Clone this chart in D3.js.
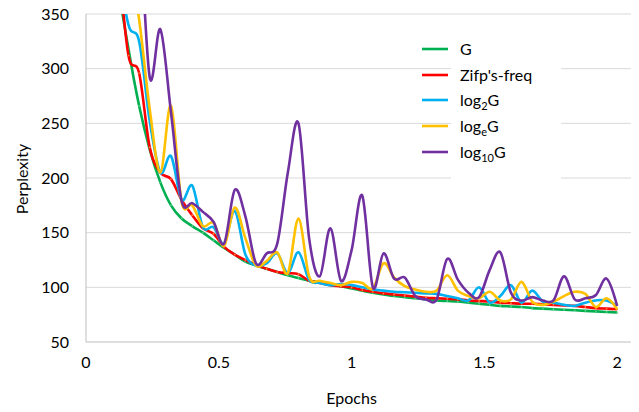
<!DOCTYPE html>
<html>
<head>
<meta charset="utf-8">
<script src="https://cdn.jsdelivr.net/npm/d3@7"></script>
<style>
  body { margin: 0; background: #fff; }
  text { font-family: Lato, "Liberation Sans", sans-serif; fill: #000; }
</style>
</head>
<body>
<svg id="chart" width="639" height="412"></svg>
<script>
// epochs at which perplexity was sampled
const epochs = [0.08, 0.12, 0.16, 0.20, 0.24, 0.28, 0.32, 0.36, 0.40, 0.44, 0.48, 0.52, 0.56, 0.60,
  0.64, 0.68, 0.72, 0.76, 0.80, 0.84, 0.88, 0.92, 0.96, 1.00, 1.04, 1.08, 1.12, 1.16, 1.20, 1.24,
  1.28, 1.32, 1.36, 1.40, 1.44, 1.48, 1.52, 1.56, 1.60, 1.64, 1.68, 1.72, 1.76, 1.80, 1.84, 1.88,
  1.92, 1.96, 2.00];

const gVals = [480, 380, 318, 266, 226, 196, 175, 163, 156, 150, 143, 136, 130, 123.5,
  120, 117, 114, 111, 108.5, 106, 104.5, 103, 101, 99, 97, 95, 93.5, 92, 91, 90,
  89, 88, 87.5, 87, 86, 85, 84, 83, 82.5, 82, 81, 80.5, 80, 79.5, 79, 78.5,
  78, 77.5, 77];

const zipfVals = [470, 400, 312, 296, 228, 205, 199, 180, 166, 154, 149, 137, 130, 125,
  120.5, 117, 114, 113, 112, 106, 104, 102, 101, 100, 97.5, 96, 94.5, 93.5, 92.5, 91.5,
  90.5, 90, 89.5, 89, 88, 87.5, 87, 86, 85.5, 85, 85, 84.5, 84, 83.5, 83, 82,
  81, 80.5, 80];

const log2Vals = [500, 400, 340, 325, 252, 205, 220, 180, 193, 155, 155, 140, 170, 130,
  120, 122, 131, 113, 132, 107, 104, 102, 103, 102, 100, 98, 97, 96, 95.5, 95,
  94.5, 94, 92, 90, 88, 100, 86, 92, 102, 86, 97, 87, 86, 84, 83, 86,
  88, 88, 83];

const logeVals = [560, 470, 400, 345, 263, 205, 266, 178, 175, 156, 159, 138, 173, 145,
  120, 124, 132, 113, 163, 110, 106, 104, 102, 105, 104, 99, 122, 109, 101, 98,
  96, 97, 111, 97, 92, 90, 96, 88, 89, 105, 87, 84, 87, 92, 96, 94,
  82, 90, 80];

const log10Vals = [680, 600, 520, 440, 292, 336, 260, 179, 177, 169, 160, 140, 189, 165,
  122, 131, 140, 205, 250, 145, 110, 154, 106, 134, 184, 100, 131, 108, 109, 92,
  89, 89, 126, 107, 95, 91, 116, 132, 95, 88, 91, 88, 88, 110, 89, 90,
  93, 108, 83];

const seriesNames = ['G', "Zifp's-freq", 'log2G', 'logeG', 'log10G'];
const seriesColors = ['#00b050', '#ff0000', '#00b0f0', '#ffc000', '#7030a0'];
const xTicks = [0, 0.5, 1, 1.5, 2];
const yTicks = [50, 100, 150, 200, 250, 300, 350];

const svg = d3.select('#chart');
const plot = { left: 86, right: 631, top: 14, bottom: 342 };

const x = d3.scaleLinear().domain([0, 2.052]).range([plot.left, plot.right]);
const y = d3.scaleLinear().domain([50, 350]).range([plot.bottom, plot.top]);

// gridlines
svg.append('g')
  .selectAll('line')
  .data(yTicks)
  .join('line')
    .attr('x1', plot.left)
    .attr('x2', plot.right)
    .attr('y1', d => y(d))
    .attr('y2', d => y(d))
    .attr('stroke', d => (d === 50 ? '#bfbfbf' : '#d9d9d9'))
    .attr('stroke-width', 1);

svg.append('line')
  .attr('x1', plot.left).attr('x2', plot.left)
  .attr('y1', plot.top).attr('y2', plot.bottom)
  .attr('stroke', '#bfbfbf');

// axis labels
svg.append('g')
  .selectAll('text')
  .data(yTicks)
  .join('text')
    .attr('x', 69)
    .attr('y', d => y(d))
    .attr('dy', '0.35em')
    .attr('text-anchor', 'end')
    .style('font-size', '16px')
    .text(d => d);

svg.append('g')
  .selectAll('text')
  .data(xTicks)
  .join('text')
    .attr('x', d => x(d))
    .attr('y', 368)
    .attr('text-anchor', 'middle')
    .style('font-size', '16px')
    .text(d => d);

svg.append('text')
  .attr('x', x(1))
  .attr('y', 404)
  .attr('text-anchor', 'middle')
  .style('font-size', '16px')
  .text('Epochs');

svg.append('text')
  .attr('transform', 'translate(28,179) rotate(-90)')
  .attr('text-anchor', 'middle')
  .style('font-size', '16px')
  .text('Perplexity');

// legend background hides gridlines behind the labels
svg.append('rect')
  .attr('x', 451).attr('y', 34)
  .attr('width', 110).attr('height', 152)
  .attr('fill', '#fff');

// lines
svg.append('clipPath').attr('id', 'clip')
  .append('rect')
    .attr('x', plot.left).attr('y', plot.top)
    .attr('width', plot.right - plot.left).attr('height', plot.bottom - plot.top);

const allSeries = [gVals, zipfVals, log2Vals, logeVals, log10Vals];
const line = d3.line()
  .x((d, i) => x(epochs[i]))
  .y(d => y(d))
  .curve(d3.curveCardinal.tension(0));

const lineGroup = svg.append('g').attr('clip-path', 'url(#clip)');
allSeries.forEach((vals, k) => {
  lineGroup.append('path')
    .datum(vals)
    .attr('d', line)
    .attr('fill', 'none')
    .attr('stroke', seriesColors[k])
    .attr('stroke-width', 2.6)
    .attr('stroke-linejoin', 'round');
  if (k < 2) {
    lineGroup.append('g')
      .selectAll('circle')
      .data(vals)
      .join('circle')
        .attr('cx', (d, i) => x(epochs[i]))
        .attr('cy', d => y(d))
        .attr('r', 0.9)
        .attr('fill', k === 0 ? '#5fd08a' : '#ff8a3a');
  }
});

// legend
const legendRows = [49, 75, 100, 126, 152];
const legend = svg.append('g');
seriesNames.forEach((name, k) => {
  const row = legend.append('g').attr('transform', `translate(0,${legendRows[k]})`);
  row.append('line')
    .attr('x1', 422).attr('x2', 448)
    .attr('stroke', seriesColors[k])
    .attr('stroke-width', 2.6);
  const t = row.append('text')
    .attr('x', 460)
    .attr('y', 6)
    .style('font-size', '16px');
  const m = name.match(/^log(.+)G$/);
  if (m) {
    t.append('tspan').text('log');
    t.append('tspan').attr('dy', 4).style('font-size', '11px').text(m[1]);
    t.append('tspan').attr('dy', -4).text('G');
  } else {
    t.text(name);
  }
});
</script>
</body>
</html>
